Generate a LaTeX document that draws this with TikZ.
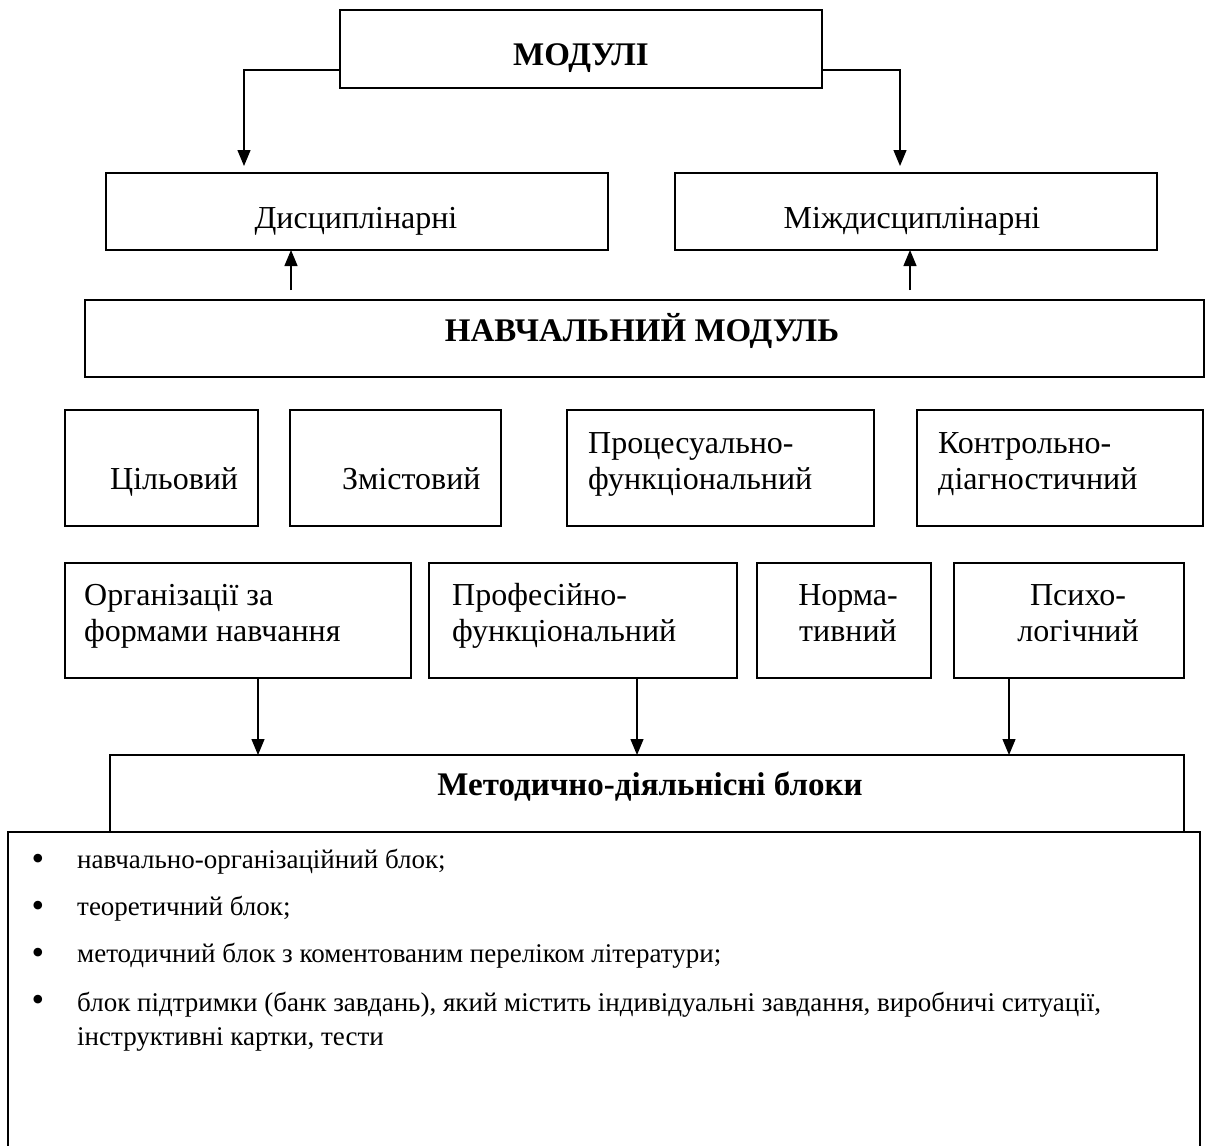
\documentclass[tikz,border=0pt]{standalone}
\usepackage{fontspec}
\setmainfont{Liberation Serif}
\usetikzlibrary{arrows.meta}
\tikzset{
  box/.style={draw, line width=2pt, inner sep=0pt, outer sep=0pt},
  txt/.style={inner sep=0pt, anchor=base west, align=left, font=\fontsize{32}{36}\selectfont},
  ctxt/.style={txt, anchor=base, align=center},
  btxt/.style={ctxt, font=\fontsize{33}{36}\selectfont\bfseries},
  ltxt/.style={inner sep=0pt, anchor=base west, align=left, font=\fontsize{27}{34}\selectfont},
  bul/.style={inner sep=0pt, anchor=base, font=\fontsize{36}{36}\selectfont},
  linkarrow/.style={line width=1.3pt, -{Triangle[length=16pt,width=13pt]}},
}

\begin{document}
\begin{tikzpicture}[x=1pt,y=-1pt]
			%%%%% START %%%%%
			\useasboundingbox (0,0) rectangle (1206,1145);
			
			% top level
			\node[box, minimum width=482, minimum height=78] (modul) at (581,49) {};
			\node[btxt] (modulT) at (581,66) {МОДУЛІ};
			
			\node[box, minimum width=502, minimum height=77] (dysc) at (357,211.5) {};
			\node[ctxt] (dyscT) at (356,228) {Дисциплінарні};
			\node[box, minimum width=482, minimum height=77] (mizh) at (916,211.5) {};
			\node[ctxt] (mizhT) at (912,228) {Міждисциплінарні};
			
			\coordinate (mL) at (244,70);
			\coordinate (mR) at (900,70);
			\draw[linkarrow, shorten >=7pt] (modul.west |- mL) -| (dysc.north -| mL);
			\draw[linkarrow, shorten >=7pt] (modul.east |- mR) -| (mizh.north -| mR);
			
			% training module
			\node[box, minimum width=1119, minimum height=77] (navch) at (644.5,338.5) {};
			\node[btxt] (navchT) at (642,341) {НАВЧАЛЬНИЙ МОДУЛЬ};
			
			\coordinate (uL) at (291,0);
			\coordinate (uR) at (910,0);
			\draw[linkarrow, shorten <=10pt] (navch.north -| uL) -- (dysc.south -| uL);
			\draw[linkarrow, shorten <=10pt] (navch.north -| uR) -- (mizh.south -| uR);
			
			% components, row 1
			\node[box, minimum width=193, minimum height=116] (cil) at (161.5,468) {};
			\node[txt] (cilT) at (110,489) {Цільовий};
			\node[box, minimum width=211, minimum height=116] (zmist) at (395.5,468) {};
			\node[txt] (zmistT) at (342,489) {Змістовий};
			\node[box, minimum width=307, minimum height=116] (proc) at (720.5,468) {};
			\node[txt] (procT) at (588,489) {Процесуально-\\функціональний};
			\node[box, minimum width=286, minimum height=116] (kontr) at (1060,468) {};
			\node[txt] (kontrT) at (938,489) {Контрольно-\\діагностичний};
			
			% components, row 2
			\node[box, minimum width=346, minimum height=115] (org) at (238,620.5) {};
			\node[txt] (orgT) at (84,641) {Організації за\\формами навчання};
			\node[box, minimum width=308, minimum height=115] (prof) at (583,620.5) {};
			\node[txt] (profT) at (452,641) {Професійно-\\функціональний};
			\node[box, minimum width=174, minimum height=115] (norm) at (844,620.5) {};
			\node[ctxt] (normT) at (848,641) {Норма-\\тивний};
			\node[box, minimum width=230, minimum height=115] (psy) at (1069,620.5) {};
			\node[ctxt] (psyT) at (1078,641) {Психо-\\логічний};
			
			% methodical blocks
			\node[box, minimum width=1074, minimum height=77] (metod) at (647,793.5) {};
			\node[btxt] (metodT) at (650,795) {Методично-діяльнісні блоки};
			
			\coordinate (dA) at (258,0);
			\coordinate (dB) at (637,0);
			\coordinate (dC) at (1009,0);
			\draw[linkarrow] (org.south -| dA) -- (metod.north -| dA);
			\draw[linkarrow] (prof.south -| dB) -- (metod.north -| dB);
			\draw[linkarrow] (psy.south -| dC) -- (metod.north -| dC);
			
			% list of blocks
			\draw[line width=2pt] (8,1150) -- (8,832) -- (1200,832) -- (1200,1150);
			\node[bul] (b1) at (38,870) {•};
			\node[ltxt] (l1) at (77,868) {навчально-організаційний блок;};
			\node[bul] (b2) at (38,917) {•};
			\node[ltxt] (l2) at (77,915) {теоретичний блок;};
			\node[bul] (b3) at (38,964) {•};
			\node[ltxt] (l3) at (77,962) {методичний блок з коментованим переліком літератури;};
			\node[bul] (b4) at (38,1011) {•};
			\node[ltxt] (l4) at (77,1045) {блок підтримки (банк завдань), який містить індивідуальні завдання, виробничі ситуації,\\інструктивні картки, тести};
			
			%%%%% END %%%%%
\end{tikzpicture}
\end{document}
